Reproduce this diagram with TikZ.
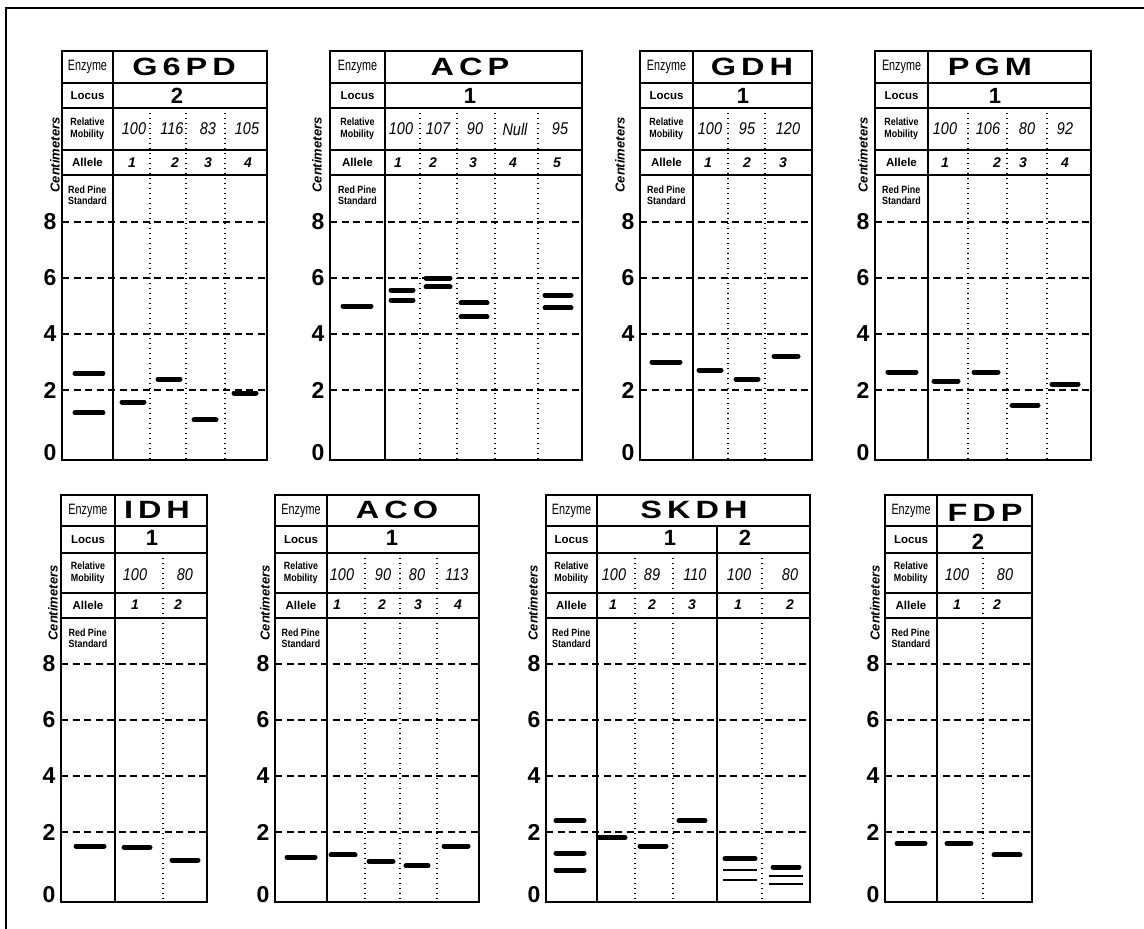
\documentclass[tikz,border=0pt]{standalone}
\usepackage{fontspec}
\setmainfont{Liberation Sans}
\newfontfamily\narrowsf[FakeStretch=0.72]{Liberation Sans}
\newfontfamily\mobsf[FakeStretch=0.85]{Liberation Sans}
\newfontfamily\widesf[FakeStretch=1.3,LetterSpace=20]{Liberation Sans}

\begin{document}
\begin{tikzpicture}[
    x=1pt, y=-1pt,
    % --- STYLES ---
    box/.style={draw=black, line width=1.6pt},
    gridline/.style={black, line width=1.3pt, dash pattern=on 7pt off 4.5pt},
    sep/.style={black, line width=1.3pt, dash pattern=on 1.4pt off 3.6pt},
    band/.style={black, line width=5pt, line cap=round},
    thinband/.style={black, line width=2pt},
    frameline/.style={black, line width=2.5pt},
    enzlabel/.style={font=\narrowsf\fontsize{15}{15}\selectfont, inner sep=0pt},
    rowlabel/.style={font=\bfseries\fontsize{11.5}{13}\selectfont, inner sep=0pt},
    smalllabel/.style={font=\mobsf\bfseries\fontsize{10.5}{11.5}\selectfont, align=left, inner sep=0pt},
    enzname/.style={font=\widesf\bfseries\fontsize{25}{25}\selectfont, inner sep=0pt},
    locusnum/.style={font=\bfseries\fontsize{22}{22}\selectfont, inner sep=0pt},
    mob/.style={font=\mobsf\itshape\fontsize{17}{17}\selectfont, inner sep=0pt},
    allele/.style={font=\bfseries\itshape\fontsize{14}{14}\selectfont, inner sep=0pt},
    axisnum/.style={font=\bfseries\fontsize{23}{23}\selectfont, inner sep=0pt},
    cmlabel/.style={font=\bfseries\itshape\fontsize{13}{13}\selectfont, rotate=90, inner sep=0pt}
]
\useasboundingbox (0,0) rectangle (1144,929);

% outer frame (open at right and bottom)
\draw[frameline] (6,929) -- (6,8) -- (1144,8);

% one gel panel: #1 name, #2 left, #3 standard column edge, #4 right, #5 x of "Centimeters"
\def\gelpanel#1#2#3#4#5{%
  \draw[box] (#2,\yTop) rectangle (#4,\yBot);
  \draw[box] (#3,\yTop) -- (#3,\yBot);
  \foreach \yy in {\yEnz,\yLoc,\yRM,\yAl}
    \draw[box] (#2,\yy) -- (#4,\yy);
  % centimeter grid
  \foreach \v in {2,4,6,8} {
    \draw[gridline] (#2,\yZero-28*\v) -- (#4,\yZero-28*\v);
    \node[axisnum] (#1-ax\v) at (#2-12,\yZero-28*\v) {\v};
  }
  \node[axisnum] (#1-ax0) at (#2-12,\yBot-7) {0};
  \node[cmlabel] (#1-cm) at (#5,\yCm) {Centimeters};
  % row labels
  \node[enzlabel] (#1-enz) at ({(#2+#3)/2},{(\yTop+\yEnz)/2}) {Enzyme};
  \node[rowlabel] (#1-loc) at ({(#2+#3)/2},{(\yEnz+\yLoc)/2}) {Locus};
  \node[smalllabel] (#1-rm) at ({(#2+#3)/2},{(\yLoc+\yRM)/2}) {Relative\\Mobility};
  \node[rowlabel] (#1-al) at ({(#2+#3)/2},{(\yRM+\yAl)/2}) {Allele};
  \node[smalllabel] (#1-std) at ({(#2+#3)/2},\yAl+20) {Red Pine\\Standard};
}

% ===== 1. TOP ROW =====
\def\yTop{51}\def\yEnz{83}\def\yLoc{108}\def\yRM{150}\def\yAl{175}
\def\yZero{446}\def\yBot{460}\def\yCm{155}\def\yM{129}\def\yA{163}

% -- G6PD --
\gelpanel{g6pd}{62}{113}{267}{55}
\node[enzname] (g6pd-name) at (184,67) {G6PD};
\node[locusnum] (g6pd-locus) at (177,96) {2};
\foreach \x in {150,186,225} \draw[sep] (\x,\yLoc) -- (\x,\yBot);
\foreach \x/\m/\xa/\a [count=\i] in {134/100/132/1,172/116/175/2,208/83/208/3,247/105/248/4} {
  \node[mob] (g6pd-m\i) at (\x,\yM) {\m};
  \node[allele] (g6pd-a\i) at (\xa,\yA) {\a};
}
\foreach \x/\v/\w in {89/2.6/14,89/1.18/14,133/1.57/11,169/2.39/11,205/0.93/11,245/1.89/11}
  \draw[band] (\x-\w,\yZero-28*\v) -- (\x+\w,\yZero-28*\v);

% -- ACP --
\gelpanel{acp}{330}{385}{582}{317}
\node[enzname] (acp-name) at (470,67) {ACP};
\node[locusnum] (acp-locus) at (470,96) {1};
\foreach \x in {420,457,495,538} \draw[sep] (\x,\yLoc) -- (\x,\yBot);
\foreach \x/\m/\xa/\a [count=\i] in {401/100/398/1,438/107/433/2,475/90/473/3,515/Null/513/4,560/95/557/5} {
  \node[mob] (acp-m\i) at (\x,\yM) {\m};
  \node[allele] (acp-a\i) at (\xa,\yA) {\a};
}
\foreach \x/\v/\w in {357/5.0/14,402/5.57/11,402/5.21/11,438/6.0/12,438/5.68/12,
                      474/5.11/13,474/4.61/13,558/5.39/13,558/4.93/13}
  \draw[band] (\x-\w,\yZero-28*\v) -- (\x+\w,\yZero-28*\v);

% -- GDH --
\gelpanel{gdh}{640}{693}{812}{620}
\node[enzname] (gdh-name) at (752,67) {GDH};
\node[locusnum] (gdh-locus) at (743,96) {1};
\foreach \x in {728,765} \draw[sep] (\x,\yLoc) -- (\x,\yBot);
\foreach \x/\m/\xa/\a [count=\i] in {710/100/708/1,747/95/747/2,788/120/783/3} {
  \node[mob] (gdh-m\i) at (\x,\yM) {\m};
  \node[allele] (gdh-a\i) at (\xa,\yA) {\a};
}
\foreach \x/\v/\w in {666/3.0/14,710/2.71/11,747/2.39/11,786/3.21/12}
  \draw[band] (\x-\w,\yZero-28*\v) -- (\x+\w,\yZero-28*\v);

% -- PGM --
\gelpanel{pgm}{875}{928}{1091}{863}
\node[enzname] (pgm-name) at (990,67) {PGM};
\node[locusnum] (pgm-locus) at (995,96) {1};
\foreach \x in {968,1007,1047} \draw[sep] (\x,\yLoc) -- (\x,\yBot);
\foreach \x/\m/\xa/\a [count=\i] in {945/100/945/1,988/106/997/2,1027/80/1023/3,1065/92/1065/4} {
  \node[mob] (pgm-m\i) at (\x,\yM) {\m};
  \node[allele] (pgm-a\i) at (\xa,\yA) {\a};
}
\foreach \x/\v/\w in {902/2.64/14,946/2.32/12,986/2.64/12,1025/1.46/13,1065/2.21/13}
  \draw[band] (\x-\w,\yZero-28*\v) -- (\x+\w,\yZero-28*\v);

% ===== 2. BOTTOM ROW =====
\def\yTop{495}\def\yEnz{526}\def\yLoc{553}\def\yRM{593}\def\yAl{618}
\def\yZero{888}\def\yBot{902}\def\yCm{603}\def\yM{575}\def\yA{605}

% -- IDH --
\gelpanel{idh}{61}{115}{207}{53}
\node[enzname] (idh-name) at (157,510) {IDH};
\node[locusnum] (idh-locus) at (152,538) {1};
\draw[sep] (163,\yLoc) -- (163,\yBot);
\foreach \x/\m/\xa/\a [count=\i] in {135/100/135/1,185/80/178/2} {
  \node[mob] (idh-m\i) at (\x,\yM) {\m};
  \node[allele] (idh-a\i) at (\xa,\yA) {\a};
}
\foreach \x/\v/\w in {90/1.5/14,137/1.46/13,185/1.0/13}
  \draw[band] (\x-\w,\yZero-28*\v) -- (\x+\w,\yZero-28*\v);

% -- ACO --
\gelpanel{aco}{275}{327}{479}{265}
\node[enzname] (aco-name) at (397,510) {ACO};
\node[locusnum] (aco-locus) at (392,538) {1};
\foreach \x in {365,400,437} \draw[sep] (\x,\yLoc) -- (\x,\yBot);
\foreach \x/\m/\xa/\a [count=\i] in {342/100/337/1,383/90/382/2,417/80/418/3,457/113/458/4} {
  \node[mob] (aco-m\i) at (\x,\yM) {\m};
  \node[allele] (aco-a\i) at (\xa,\yA) {\a};
}
\foreach \x/\v/\w in {301/1.1/14,343/1.18/12,381/0.96/12,417/0.79/11,456/1.5/12}
  \draw[band] (\x-\w,\yZero-28*\v) -- (\x+\w,\yZero-28*\v);

% -- SKDH (two loci) --
\gelpanel{skdh}{546}{597}{810}{533}
\node[enzname] (skdh-name) at (694,510) {SKDH};
\node[locusnum] (skdh-locus1) at (670,538) {1};
\node[locusnum] (skdh-locus2) at (745,538) {2};
\draw[box] (717,\yEnz) -- (717,\yBot);
\foreach \x in {635,673,762} \draw[sep] (\x,\yLoc) -- (\x,\yBot);
\foreach \x/\m/\xa/\a [count=\i] in {614/100/613/1,652/89/652/2,695/110/692/3,739/100/738/1,790/80/790/2} {
  \node[mob] (skdh-m\i) at (\x,\yM) {\m};
  \node[allele] (skdh-a\i) at (\xa,\yA) {\a};
}
\foreach \x/\v/\w in {570/2.4/14,570/1.25/14,570/0.64/14,612/1.79/13,653/1.5/13,
                      692/2.4/13,740/1.04/15,786/0.75/13}
  \draw[band] (\x-\w,\yZero-28*\v) -- (\x+\w,\yZero-28*\v);
\foreach \x/\v in {740/0.64,740/0.29,786/0.43,786/0.14}
  \draw[thinband] (\x-17,\yZero-28*\v) -- (\x+17,\yZero-28*\v);

% -- FDP --
\gelpanel{fdp}{885}{937}{1032}{875}
\node[enzname] (fdp-name) at (985,513) {FDP};
\node[locusnum] (fdp-locus) at (978,542) {2};
\draw[sep] (983,\yLoc) -- (983,\yBot);
\foreach \x/\m/\xa/\a [count=\i] in {957/100/957/1,1005/80/997/2} {
  \node[mob] (fdp-m\i) at (\x,\yM) {\m};
  \node[allele] (fdp-a\i) at (\xa,\yA) {\a};
}
\foreach \x/\v/\w in {911/1.6/14,959/1.6/12,1007/1.18/13}
  \draw[band] (\x-\w,\yZero-28*\v) -- (\x+\w,\yZero-28*\v);

\end{tikzpicture}
\end{document}
